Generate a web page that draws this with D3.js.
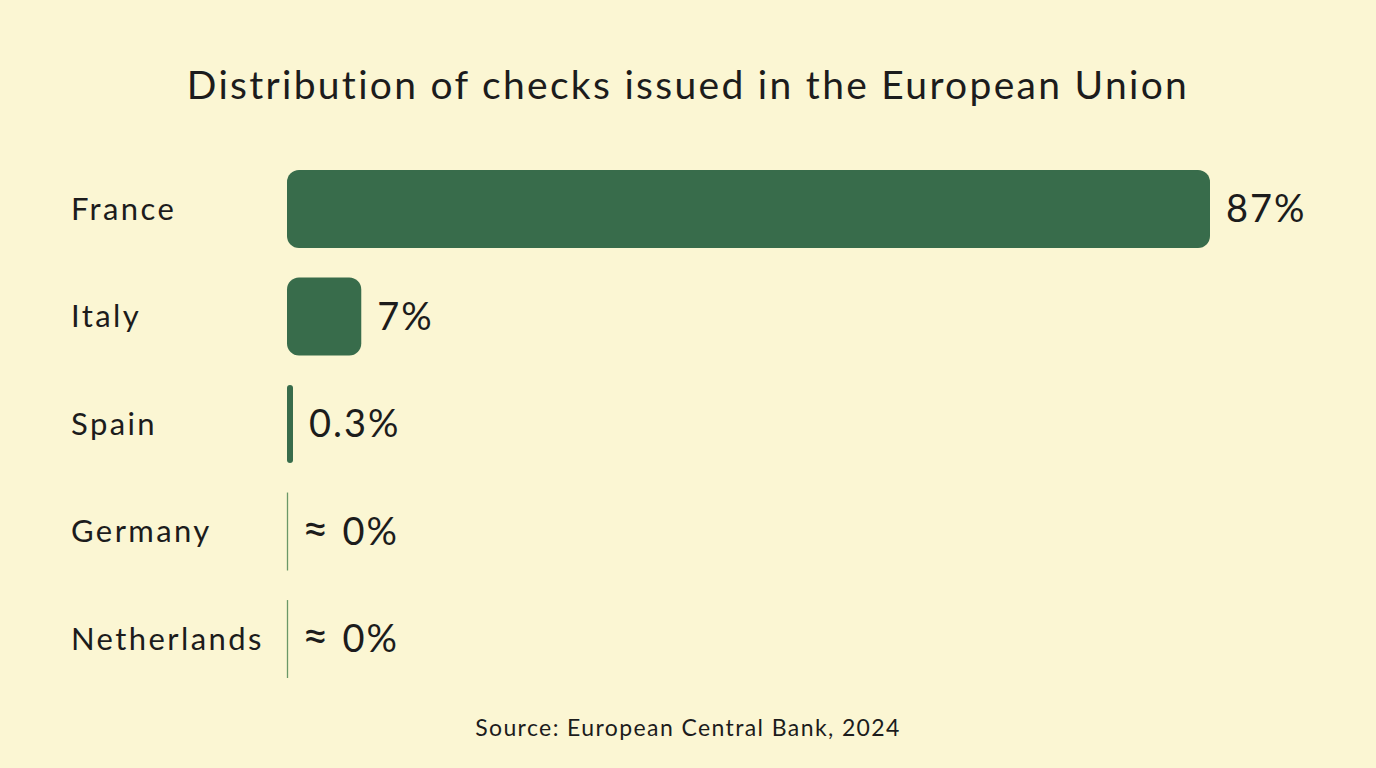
<!DOCTYPE html>
<html><head><meta charset="utf-8">
<script src="https://cdn.jsdelivr.net/npm/d3@7"></script>
<style>
html,body{margin:0;padding:0;background:#FBF6D3;}
svg{display:block;font-family:"Lato","Noto Sans",sans-serif;}
</style></head>
<body>
<svg id="c" width="1376" height="768"></svg>
<script>
const categories = ["France","Italy","Spain","Germany","Netherlands"];
const values = [87, 7, 0.3, 0, 0];
const valueLabels = ["87%","7%","0.3%","≈ 0%","≈ 0%"];
const title = "Distribution of checks issued in the European Union";
const source = "Source: European Central Bank, 2024";

const svg = d3.select("#c");
svg.append("rect").attr("width",1376).attr("height",768).attr("fill","#FBF6D3");

const x = d3.scaleLinear().domain([0, 87]).range([287, 1210]);
const y = d3.scaleBand().domain(categories).range([170, 678]).paddingInner(0.275).paddingOuter(0);

svg.append("text").attr("x",688).attr("y",99).attr("text-anchor","middle")
  .attr("font-size",39).attr("letter-spacing",2.3).attr("fill","#1c1c1c").text(title);

const g = svg.append("g");
categories.forEach((c,i)=>{
  const v = values[i];
  const y0 = y(c), h = y.bandwidth();
  g.append("text").attr("x",71).attr("y",y0+h/2).attr("dy","0.35em")
    .attr("font-size",31).attr("letter-spacing",2.4).attr("fill","#1c1c1c").text(c);
  let w = x(v) - x(0);
  if (v > 0) {
    w = Math.max(w, 6);
    g.append("rect").attr("x",x(0)).attr("y",y0).attr("width",w).attr("height",h)
      .attr("rx",Math.min(12,w/2)).attr("fill","#386C4B");
  } else {
    g.append("line").attr("x1",x(0)+0.5).attr("x2",x(0)+0.5).attr("y1",y0).attr("y2",y0+h)
      .attr("stroke","#6A9868").attr("stroke-width",1.3);
  }
  const lx = v > 0 ? x(0)+w+16 : x(0)+15;
  const txt = g.append("text").attr("x",lx).attr("y",y0+h/2).attr("dy","0.35em")
    .attr("font-size",38).attr("letter-spacing",2).attr("fill","#1c1c1c");
  if (valueLabels[i].startsWith("≈")) {
    txt.append("tspan").attr("font-size",46).text("≈");
    txt.append("tspan").text(valueLabels[i].slice(1));
  } else txt.text(valueLabels[i]);
});

svg.append("text").attr("x",688).attr("y",736).attr("text-anchor","middle")
  .attr("font-size",23).attr("letter-spacing",1.4).attr("fill","#1c1c1c").text(source);
</script>
</body></html>
